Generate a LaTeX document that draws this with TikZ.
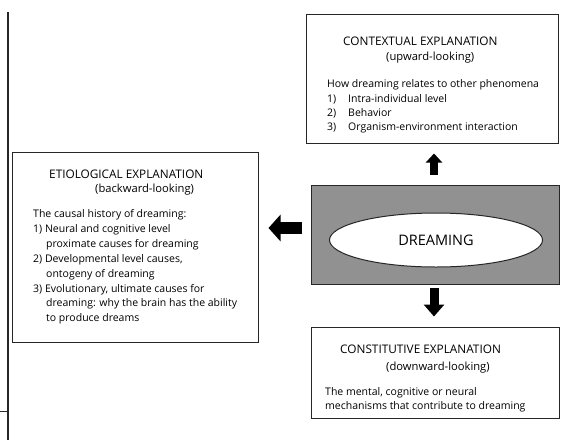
\documentclass[tikz,border=0pt]{standalone}
\usepackage{fontspec}
\setmainfont{Open Sans}
\usetikzlibrary{arrows.meta,shapes.geometric}
\begin{document}
\begin{tikzpicture}[x=1pt,y=-1pt,
  txt/.style={anchor=base west, inner sep=0pt, font=\fontsize{10.5}{12}\selectfont, text=black},
  ttl/.style={txt, font=\fontsize{11.8}{13}\selectfont},
  sub/.style={txt, font=\fontsize{11.2}{13}\selectfont},
  box/.style={draw=black!85, line width=1pt, fill=white, rectangle, inner sep=0pt},
]
\useasboundingbox (0,0) rectangle (561,440);
% left margin rule
\coordinate (ltop) at (8,12);
\coordinate (lbot) at (8,440);
\coordinate (tick0) at (0,411);
\draw[line width=1.5pt, black!85] (ltop) -- (lbot);
\draw[line width=0.9pt, black!85] (tick0) -- (tick0 -| ltop);

% boxes
\node[box, minimum width=252pt, minimum height=129pt] (ctx) at (432,78.5) {};
\node[box, minimum width=246pt, minimum height=190pt] (etio) at (135,247) {};
\node[box, minimum width=248pt, minimum height=91pt] (cons) at (435,372.5) {};
\node[box, fill=black!43, minimum width=248pt, minimum height=99pt] (gray) at (435,234.5) {};
\node[draw=black!85, line width=1pt, fill=white, ellipse, minimum width=213pt, minimum height=54pt, inner sep=0pt,
  font=\fontsize{14.5}{16}\selectfont, text=black] (dream) at (436,240) {DREAMING};

% arrows
\coordinate (ua) at (434,185);
\draw[line width=8pt, -{Triangle[length=9pt,width=16pt]}, black, shorten <=10pt, shorten >=10pt]
  (ua) -- (ua |- ctx.south);
\coordinate (la) at (311,228);
\draw[line width=12pt, -{Triangle[length=12pt,width=26pt]}, black, shorten <=9pt, shorten >=10pt]
  (la) -- (la -| etio.east);
\coordinate (da) at (434,284);
\draw[line width=9pt, -{Triangle[length=12pt,width=20pt]}, black, shorten <=4pt, shorten >=10pt]
  (da) -- (da |- cons.north);

% contextual text
\node[ttl] (c1) at (343,45.5) {CONTEXTUAL EXPLANATION};
\node[sub] (c2) at (386,60.5) {(upward-looking)};
\node[txt] (c3) at (327,87.5) {How dreaming relates to other phenomena};
\node[txt] (c4) at (327,102) {1)};
\node[txt] (c4b) at (348,102) {Intra-individual level};
\node[txt] (c5) at (327,116) {2)};
\node[txt] (c5b) at (348,116) {Behavior};
\node[txt] (c6) at (327,130) {3)};
\node[txt] (c6b) at (348,130) {Organism-environment interaction};

% etiological text
\node[ttl] (e1) at (49,178) {ETIOLOGICAL EXPLANATION};
\node[sub] (e2) at (95,192) {(backward-looking)};
\node[txt] (e3) at (33,217.5) {The causal history of dreaming:};
\node[txt] (e4) at (33,232.5) {1) Neural and cognitive level};
\node[txt] (e5) at (46,247.5) {proximate causes for dreaming};
\node[txt] (e6) at (33,262.5) {2) Developmental level causes,};
\node[txt] (e7) at (46,277.5) {ontogeny of dreaming};
\node[txt] (e8) at (33,292.5) {3) Evolutionary, ultimate causes for};
\node[txt] (e9) at (46,306.5) {dreaming: why the brain has the ability};
\node[txt] (e10) at (46,321.5) {to produce dreams};

% constitutive text
\node[ttl] (k1) at (340,353) {CONSTITUTIVE EXPLANATION};
\node[sub] (k2) at (386,370) {(downward-looking)};
\node[txt] (k3) at (325,395) {The mental, cognitive or neural};
\node[txt] (k4) at (325,409) {mechanisms that contribute to dreaming};
\end{tikzpicture}
\end{document}
